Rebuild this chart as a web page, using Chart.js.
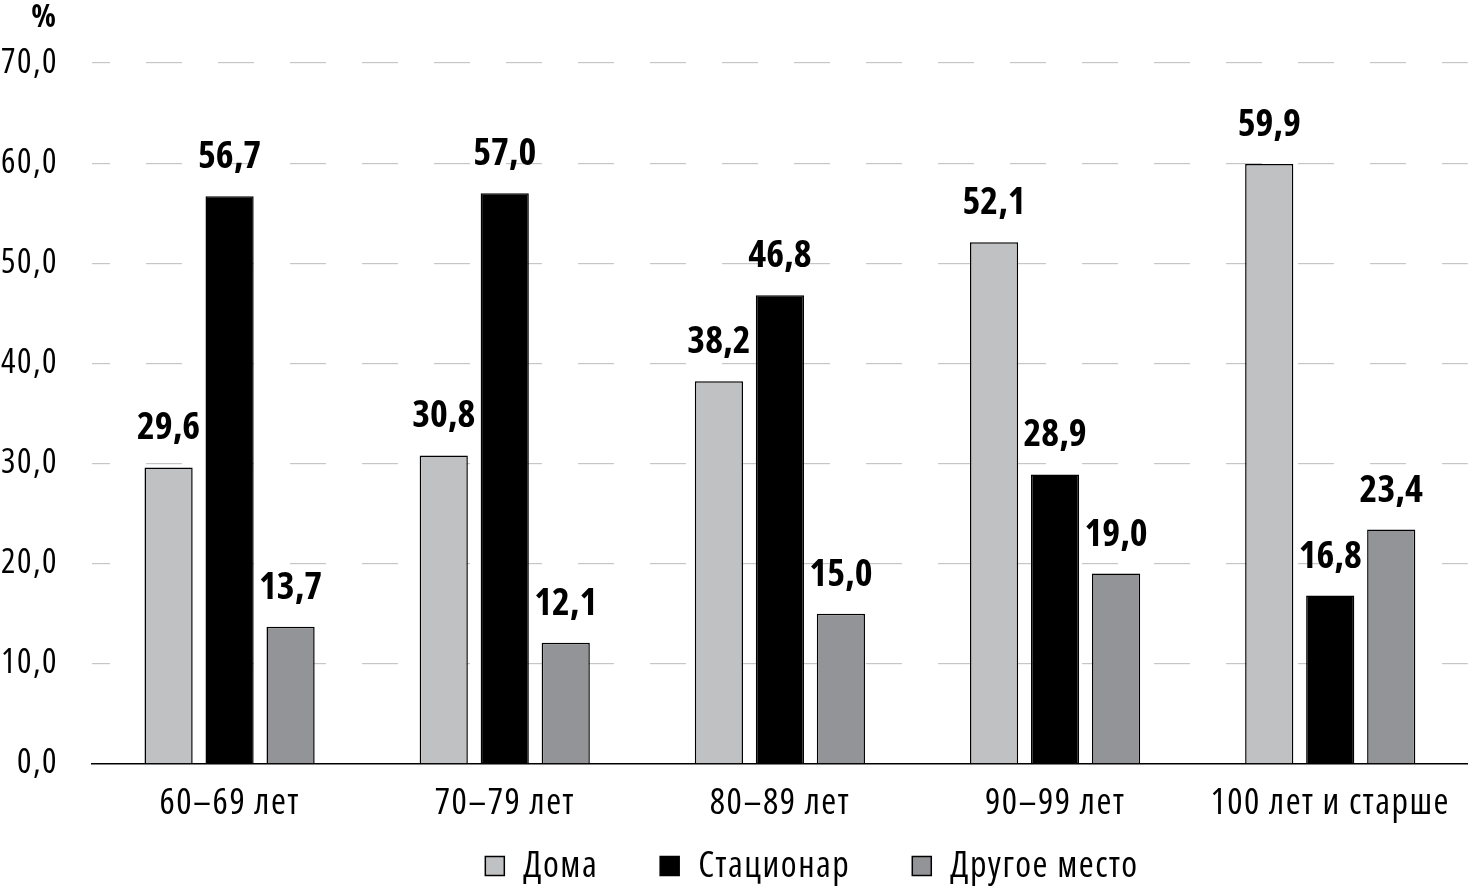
<!DOCTYPE html>
<html>
<head>
<meta charset="utf-8">
<script src="https://cdn.jsdelivr.net/npm/chart.js@4.4.1/dist/chart.umd.min.js"></script>
<style>
  html, body { margin: 0; padding: 0; background: #fff; }
  #wrap { width: 1468px; height: 889px; position: relative; }
</style>
</head>
<body>
<div id="wrap"><canvas id="chart"></canvas></div>
<script>
const categories = ['60–69 лет', '70–79 лет', '80–89 лет', '90–99 лет', '100 лет и старше'];
const seriesNames = ['Дома', 'Стационар', 'Другое место'];
const home     = [29.6, 30.8, 38.2, 52.1, 59.9];
const hospital = [56.7, 57.0, 46.8, 28.9, 16.8];
const other    = [13.7, 12.1, 15.0, 19.0, 23.4];
const colors   = ['#c0c1c3', '#000000', '#939497'];

const fmt = v => v.toFixed(1).replace('.', ',');

// only the condensed face of Open Sans is here, so open it up a little
const FONT = "'Open Sans', sans-serif";
const SPACING = '1.5px';
const textFont = { family: FONT, weight: 'condensed', size: 36 };

const spacing = {
    id: 'spacing',
    beforeLayout(chart) { chart.ctx.letterSpacing = SPACING; },
    beforeDraw(chart) { chart.ctx.letterSpacing = SPACING; }
};

// value labels above the bars
const valueLabels = {
    id: 'valueLabels',
    afterDatasetsDraw(chart) {
        const { ctx } = chart;
        ctx.save();
        ctx.letterSpacing = '0px';
        ctx.fillStyle = '#000';
        ctx.font = 'bold condensed 38px ' + FONT;
        ctx.textAlign = 'center';
        ctx.textBaseline = 'alphabetic';
        chart.data.datasets.forEach((ds, i) => {
            chart.getDatasetMeta(i).data.forEach((bar, j) => {
                ctx.fillText(fmt(ds.data[j]), bar.x, bar.y - 28);
            });
        });
        ctx.restore();
    }
};

// "%" unit and the legend under the axis
const extras = {
    id: 'extras',
    afterDraw(chart) {
        const { ctx } = chart;
        ctx.save();
        ctx.letterSpacing = '0px';
        ctx.fillStyle = '#000';
        ctx.font = 'bold condensed 32px ' + FONT;
        ctx.textAlign = 'right';
        ctx.textBaseline = 'alphabetic';
        ctx.fillText('%', 56, 27);

        ctx.letterSpacing = SPACING;
        ctx.font = 'condensed 36px ' + FONT;
        ctx.textAlign = 'left';
        ctx.textBaseline = 'middle';
        const box = 19, gap = 19, sep = 62, y = 866;
        const widths = seriesNames.map(t => ctx.measureText(t).width);
        const total = widths.reduce((a, w) => a + box + gap + w, 0) + sep * (seriesNames.length - 1);
        let x = 812 - total / 2;
        seriesNames.forEach((t, i) => {
            ctx.fillStyle = colors[i];
            ctx.fillRect(x, y - box / 2, box, box);
            ctx.strokeStyle = '#000';
            ctx.lineWidth = 1.5;
            ctx.strokeRect(x, y - box / 2, box, box);
            ctx.fillStyle = '#000';
            ctx.fillText(t, x + box + gap, y + 1);
            x += box + gap + widths[i] + sep;
        });
        ctx.restore();
    }
};

new Chart(document.getElementById('chart'), {
    type: 'bar',
    data: {
        labels: categories,
        datasets: [home, hospital, other].map((d, i) => ({
            label: seriesNames[i],
            data: d,
            backgroundColor: colors[i],
            borderColor: '#000',
            borderWidth: 1.5,
            categoryPercentage: 0.665,
            barPercentage: 0.79
        }))
    },
    options: {
        responsive: true,
        maintainAspectRatio: false,
        animation: false,
        layout: { padding: { left: 0, right: 0, top: 63, bottom: 46 } },
        plugins: {
            tooltip: { enabled: false },
            legend: { display: false }
        },
        scales: {
            x: {
                grid: { display: false, drawTicks: false },
                border: { display: true, color: '#000', width: 1.5 },
                ticks: {
                    font: textFont,
                    color: '#000', padding: 18,
                    maxRotation: 0, minRotation: 0, autoSkip: false
                }
            },
            y: {
                min: 0,
                max: 70,
                afterFit(scale) { scale.width = 92; },
                grid: {
                    drawTicks: false,
                    color: c => c.tick && c.tick.value === 0 ? 'rgba(0,0,0,0)' : '#c6c6c6',
                    lineWidth: 1.2
                },
                border: { display: false, dash: [36, 36], dashOffset: 18 },
                ticks: {
                    stepSize: 10,
                    font: { family: FONT, weight: 'condensed', size: 34 },
                    color: '#000',
                    padding: 34,
                    callback: v => fmt(v)
                }
            }
        }
    },
    plugins: [spacing, valueLabels, extras]
});
</script>
</body>
</html>
